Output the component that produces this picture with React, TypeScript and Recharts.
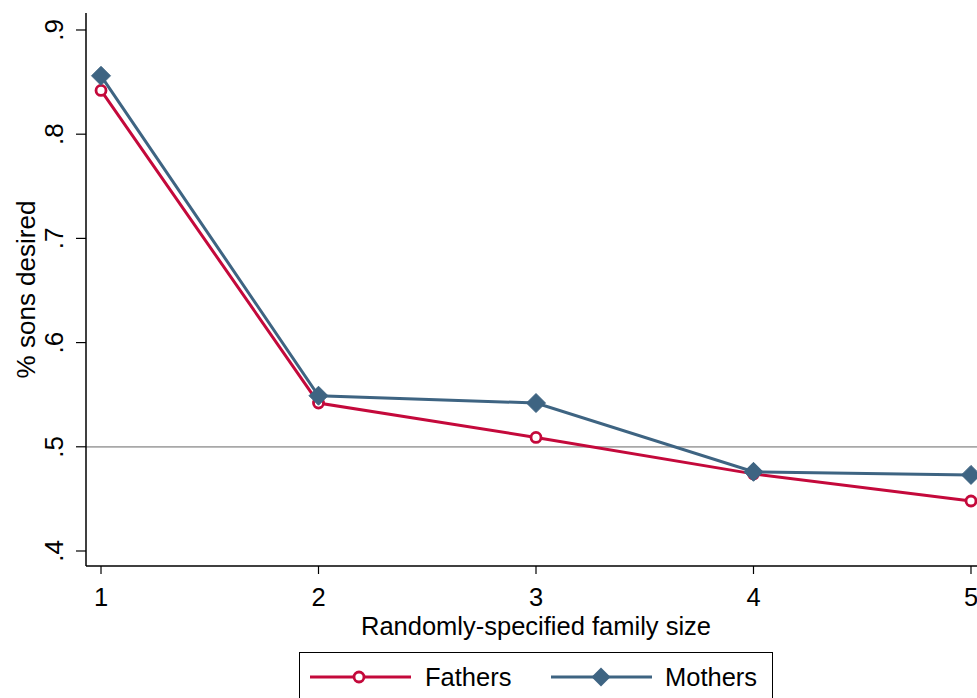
import React from 'react';
import { LineChart, Line, XAxis, YAxis, ReferenceLine } from 'recharts';

const familySize = [1, 2, 3, 4, 5];
const fathers = [0.842, 0.542, 0.509, 0.474, 0.448];
const mothers = [0.856, 0.549, 0.542, 0.476, 0.473];
const yTicks = [0.4, 0.5, 0.6, 0.7, 0.8, 0.9];
const yTickLabels = ['.4', '.5', '.6', '.7', '.8', '.9'];
const seriesNames = ['Fathers', 'Mothers'];

const RED = '#C4093B';
const BLUE = '#3E6482';
const FONT = '"Liberation Sans", Arial, sans-serif';

const data = familySize.map((s, i) => ({ size: s, Fathers: fathers[i], Mothers: mothers[i] }));

const CircleDot = (props: any) => {
  const { cx, cy } = props;
  if (cx == null || cy == null) return null;
  return <circle cx={cx} cy={cy} r={5} fill="#fff" stroke={RED} strokeWidth={2.8} />;
};

const DiamondDot = (props: any) => {
  const { cx, cy } = props;
  if (cx == null || cy == null) return null;
  const h = 9.5;
  return (
    <polygon
      points={`${cx},${cy - h} ${cx + h},${cy} ${cx},${cy + h} ${cx - h},${cy}`}
      fill={BLUE}
      stroke={BLUE}
      strokeWidth={1}
    />
  );
};

const YTick = (props: any) => {
  const { x, y, payload } = props;
  const idx = yTicks.indexOf(payload.value);
  const label = idx >= 0 ? yTickLabels[idx] : String(payload.value);
  const bx = x - 13;
  return (
    <text
      x={bx}
      y={y}
      transform={`rotate(-90, ${bx}, ${y})`}
      textAnchor="middle"
      fontSize={26}
      fontFamily={FONT}
      fill="#000"
    >
      {label}
    </text>
  );
};

const XTick = (props: any) => {
  const { x, y, payload } = props;
  return (
    <text x={x} y={y + 32} textAnchor="middle" fontSize={25.5} fontFamily={FONT} fill="#000">
      {payload.value}
    </text>
  );
};

const LegendBox = () => {
  const items = [
    { name: seriesNames[0], color: RED, marker: 'circle', lineX: 10, textX: 125 },
    { name: seriesNames[1], color: BLUE, marker: 'diamond', lineX: 251, textX: 365 },
  ];
  return (
    <div
      style={{
        position: 'absolute',
        left: 299,
        top: 652,
        width: 472,
        height: 80,
        border: '1.5px solid #000',
        background: '#fff',
      }}
    >
      <svg width={472} height={60} style={{ position: 'absolute', left: 0, top: 0 }}>
        {items.map((it) => (
          <g key={it.name}>
            <line x1={it.lineX} x2={it.lineX + 101} y1={24} y2={24} stroke={it.color} strokeWidth={3} />
            {it.marker === 'circle' ? (
              <circle cx={it.lineX + 49} cy={24} r={5} fill="#fff" stroke={it.color} strokeWidth={2.8} />
            ) : (
              <polygon
                points={`${it.lineX + 50},${24 - 9.5} ${it.lineX + 59.5},24 ${it.lineX + 50},${24 + 9.5} ${it.lineX + 40.5},24`}
                fill={it.color}
              />
            )}
            <text x={it.textX} y={24} dominantBaseline="central" fontSize={25.5} fontFamily={FONT} fill="#000">
              {it.name}
            </text>
          </g>
        ))}
      </svg>
    </div>
  );
};

export default function App() {
  return (
    <div
      style={{
        position: 'fixed',
        left: 0,
        top: 0,
        width: 977,
        height: 698,
        overflow: 'hidden',
        background: '#fff',
      }}
    >
      <div style={{ position: 'absolute', left: 8, top: 8 }}>
        <LineChart
          width={992}
          height={690}
          data={data}
          margin={{ top: 5, right: 14, bottom: 0, left: 0 }}
        >
          <XAxis
            xAxisId="top"
            orientation="top"
            dataKey="size"
            type="number"
            domain={[0.931, 5.069]}
            height={0}
            tick={false}
            tickLine={false}
            axisLine={{ stroke: '#000', strokeWidth: 1.5 }}
          />
          <XAxis
            dataKey="size"
            type="number"
            domain={[0.931, 5.069]}
            ticks={familySize}
            height={132}
            tickSize={8}
            tickMargin={0}
            tick={<XTick />}
            tickLine={{ stroke: '#000', strokeWidth: 1.2 }}
            axisLine={{ stroke: '#000', strokeWidth: 1.5 }}
            label={() => (
              <text x={528} y={627} textAnchor="middle" fontSize={25.5} fontFamily={FONT} fill="#000">
                Randomly-specified family size
              </text>
            )}
          />
          <YAxis
            type="number"
            domain={[0.3856, 0.9163]}
            ticks={yTicks}
            width={78}
            tickSize={10}
            tickMargin={0}
            tick={<YTick />}
            tickLine={{ stroke: '#000', strokeWidth: 1.2 }}
            axisLine={{ stroke: '#000', strokeWidth: 1.5 }}
            allowDataOverflow
            label={(p: any) => {
              const vb = p.viewBox || {};
              const cy = (vb.y ?? 5) + (vb.height ?? 553) / 2;
              return (
                <text
                  x={27}
                  y={cy}
                  transform={`rotate(-90, 27, ${cy})`}
                  textAnchor="middle"
                  fontSize={26}
                  fontFamily={FONT}
                  fill="#000"
                >
                  % sons desired
                </text>
              );
            }}
          />
          <ReferenceLine y={0.5} stroke="#A8A8A8" strokeWidth={1.8} />
          <Line
            dataKey="Fathers"
            stroke={RED}
            strokeWidth={3}
            dot={<CircleDot />}
            activeDot={false}
            isAnimationActive={false}
          />
          <Line
            dataKey="Mothers"
            stroke={BLUE}
            strokeWidth={3}
            dot={<DiamondDot />}
            activeDot={false}
            isAnimationActive={false}
          />
        </LineChart>
      </div>
      <LegendBox />
    </div>
  );
}
